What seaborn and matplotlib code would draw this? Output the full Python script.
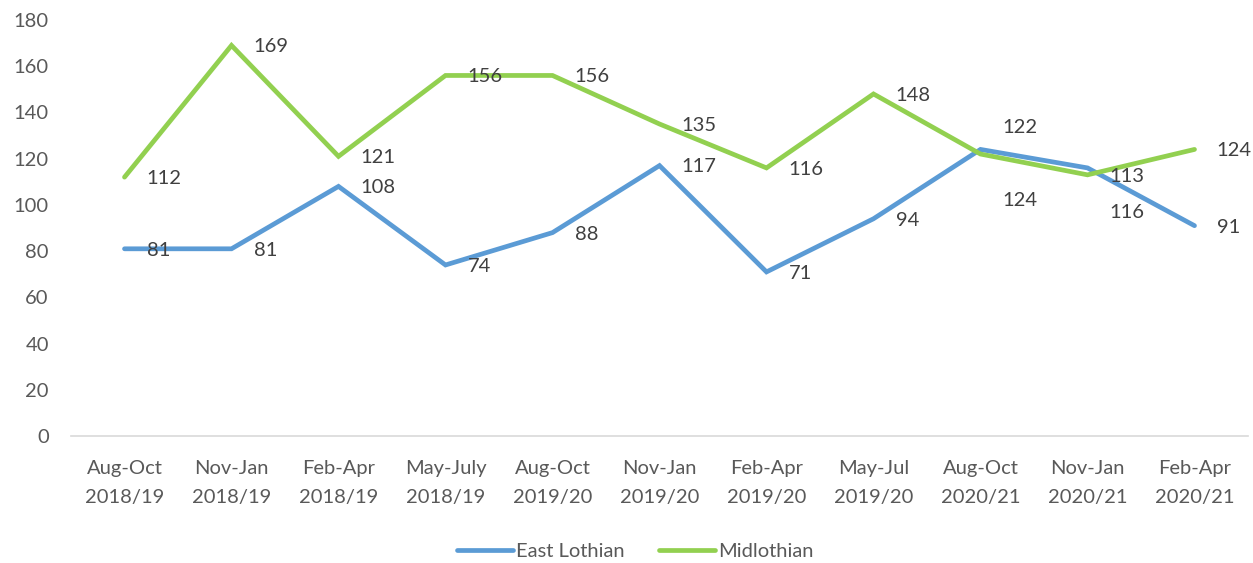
import pandas as pd
import matplotlib.pyplot as plt
import seaborn as sns

periods = ["Aug-Oct\n2018/19", "Nov-Jan\n2018/19", "Feb-Apr\n2018/19", "May-July\n2018/19",
           "Aug-Oct\n2019/20", "Nov-Jan\n2019/20", "Feb-Apr\n2019/20", "May-Jul\n2019/20",
           "Aug-Oct\n2020/21", "Nov-Jan\n2020/21", "Feb-Apr\n2020/21"]
east_lothian = [81, 81, 108, 74, 88, 117, 71, 94, 124, 116, 91]
midlothian = [112, 169, 121, 156, 156, 135, 116, 148, 122, 113, 124]

# a few data labels were dragged off their points in the original (offsets in points)
label_shift = {
    ("East Lothian", 8): -37,
    ("East Lothian", 9): -32,
    ("Midlothian", 8): 19,
}

df = pd.DataFrame({
    "period": periods * 2,
    "value": east_lothian + midlothian,
    "area": ["East Lothian"] * len(periods) + ["Midlothian"] * len(periods),
})

sns.set_style("white")
plt.rcParams["font.family"] = ["Lato", "DejaVu Sans"]
text_col = "#595959"
colors = {"East Lothian": "#5B9BD5", "Midlothian": "#92D050"}

fig = plt.figure(figsize=(12.53, 5.63), dpi=100)
ax = fig.add_axes([71 / 1253, 1 - 436 / 563, (1248 - 71) / 1253, 416 / 563])

sns.lineplot(data=df, x="period", y="value", hue="area", palette=colors,
             linewidth=3.4, sort=False, ax=ax, legend=True)
for line in ax.get_lines():
    line.set_solid_capstyle("round")
    line.set_solid_joinstyle("miter")

for area, vals in [("East Lothian", east_lothian), ("Midlothian", midlothian)]:
    for i, v in enumerate(vals):
        dy = label_shift.get((area, i), -1)
        ax.annotate(str(v), (i, v), xytext=(16, dy), textcoords="offset points",
                    ha="left", va="center", fontsize=14.5, color="#404040")

ax.set_xlim(-0.5, len(periods) - 0.5)
ax.set_ylim(0, 180)
ax.set_yticks(range(0, 181, 20))
ax.set_xlabel("")
ax.set_ylabel("")
for s in ["left", "right", "top"]:
    ax.spines[s].set_visible(False)
ax.spines["bottom"].set_color("#D9D9D9")
ax.spines["bottom"].set_linewidth(1.2)
ax.tick_params(axis="both", length=0, labelsize=14.5, labelcolor=text_col)
ax.tick_params(axis="y", pad=16)
ax.tick_params(axis="x", pad=17)
for t in ax.get_xticklabels():
    t.set_linespacing(1.85)

handles, labels = ax.get_legend_handles_labels()
ax.get_legend().remove()
fig.legend(handles, labels, loc="center", bbox_to_anchor=(0.507, 1 - 551 / 563),
           ncol=2, frameon=False, fontsize=14.5, handlelength=2.8, handletextpad=0.15,
           columnspacing=1.7, labelcolor=text_col)

fig.savefig("out.png", dpi=100)
